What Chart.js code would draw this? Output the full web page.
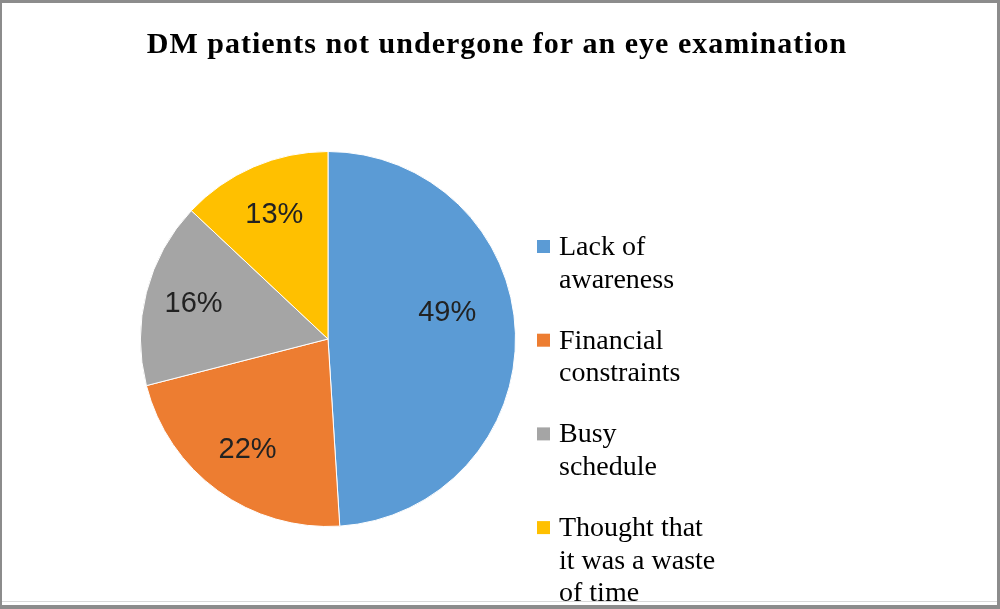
<!DOCTYPE html>
<html>
<head>
<meta charset="utf-8">
<style>
  html, body { margin: 0; padding: 0; background: #fff; overflow: hidden; }
  canvas { display: block; }
</style>
<script src="https://cdn.jsdelivr.net/npm/chart.js@4.4.1/dist/chart.umd.min.js"></script>
</head>
<body>
<canvas id="c" width="1000" height="609"></canvas>
<script>
// ---- data ----
const chartTitle = "DM patients not undergone for an eye examination";
const categories = [
  ["Lack of", "awareness"],
  ["Financial", "constraints"],
  ["Busy", "schedule"],
  ["Thought that", "it was a waste", "of time"]
];
const values = [49, 22, 16, 13];
const colors = ["#5B9BD5", "#ED7D31", "#A5A5A5", "#FFC000"];

// ---- plugins ----
const framePlugin = {
  id: 'frame',
  beforeDraw(chart) {
    const ctx = chart.ctx, w = chart.width, h = chart.height;
    ctx.save();
    ctx.fillStyle = '#ffffff';
    ctx.fillRect(0, 0, w, h);
    ctx.fillStyle = '#8c8c8c';
    ctx.fillRect(0, 0, w, 3);        // top
    ctx.fillRect(0, 0, 2, h);        // left
    ctx.fillRect(w - 3, 0, 3, h);    // right
    ctx.fillRect(0, h - 4, w, 4);    // bottom
    ctx.fillStyle = '#d9d9d9';
    ctx.fillRect(2, h - 8, w - 5, 1);
    ctx.restore();
  }
};

const titlePlugin = {
  id: 'customTitle',
  afterDraw(chart) {
    const ctx = chart.ctx;
    ctx.save();
    ctx.font = 'bold 30px "Liberation Serif", "Times New Roman", serif';
    try { ctx.letterSpacing = '1px'; } catch (e) {}
    ctx.fillStyle = '#000';
    ctx.textAlign = 'center';
    ctx.textBaseline = 'alphabetic';
    ctx.fillText(chartTitle, 497, 53);
    ctx.restore();
  }
};

// label placement style: radial fraction and angular nudge (radians) per slice
const labelRadius = [0.65, 0.73, 0.74, 0.72];
const labelNudge = [-0.18, 0, 0, 0];

const sliceLabelPlugin = {
  id: 'sliceLabels',
  afterDatasetsDraw(chart) {
    const ctx = chart.ctx;
    const meta = chart.getDatasetMeta(0);
    const ds = chart.data.datasets[0];
    ctx.save();
    ctx.font = '29px "Liberation Sans", Arial, sans-serif';
    ctx.fillStyle = '#222';
    ctx.textAlign = 'center';
    ctx.textBaseline = 'middle';
    meta.data.forEach((arc, i) => {
      const p = arc.getProps(['x', 'y', 'startAngle', 'endAngle', 'outerRadius'], true);
      const mid = (p.startAngle + p.endAngle) / 2 + labelNudge[i];
      const r = p.outerRadius * labelRadius[i];
      const x = p.x + Math.cos(mid) * r;
      const y = p.y + Math.sin(mid) * r;
      ctx.fillText(ds.data[i] + '%', x, y);
    });
    ctx.restore();
  }
};

const legendPlugin = {
  id: 'sideLegend',
  afterDraw(chart) {
    const ctx = chart.ctx;
    const labels = chart.data.labels;
    const bg = chart.data.datasets[0].backgroundColor;
    const boxX = chart.chartArea.right + 21;
    const textX = boxX + 22;
    const firstBaseline = 255;
    const itemStep = 93.7;
    const lineH = 32.5;
    ctx.save();
    ctx.font = '28px "Liberation Serif", "Times New Roman", serif';
    ctx.textAlign = 'left';
    ctx.textBaseline = 'alphabetic';
    labels.forEach((lab, i) => {
      const base = firstBaseline + i * itemStep;
      ctx.fillStyle = bg[i];
      ctx.fillRect(boxX, base - 15, 13, 13);
      ctx.fillStyle = '#000';
      const lines = Array.isArray(lab) ? lab : [lab];
      lines.forEach((ln, j) => ctx.fillText(ln, textX, base + j * lineH));
    });
    ctx.restore();
  }
};

new Chart(document.getElementById('c'), {
  type: 'pie',
  data: {
    labels: categories,
    datasets: [{
      data: values,
      backgroundColor: colors,
      borderColor: '#ffffff',
      borderWidth: 1
    }]
  },
  options: {
    responsive: false,
    animation: false,
    devicePixelRatio: 1,
    layout: { padding: { top: 151, bottom: 82, left: 140, right: 484 } },
    plugins: {
      legend: { display: false },
      title: { display: false },
      tooltip: { enabled: false }
    }
  },
  plugins: [framePlugin, sliceLabelPlugin, legendPlugin, titlePlugin]
});
</script>
</body>
</html>
